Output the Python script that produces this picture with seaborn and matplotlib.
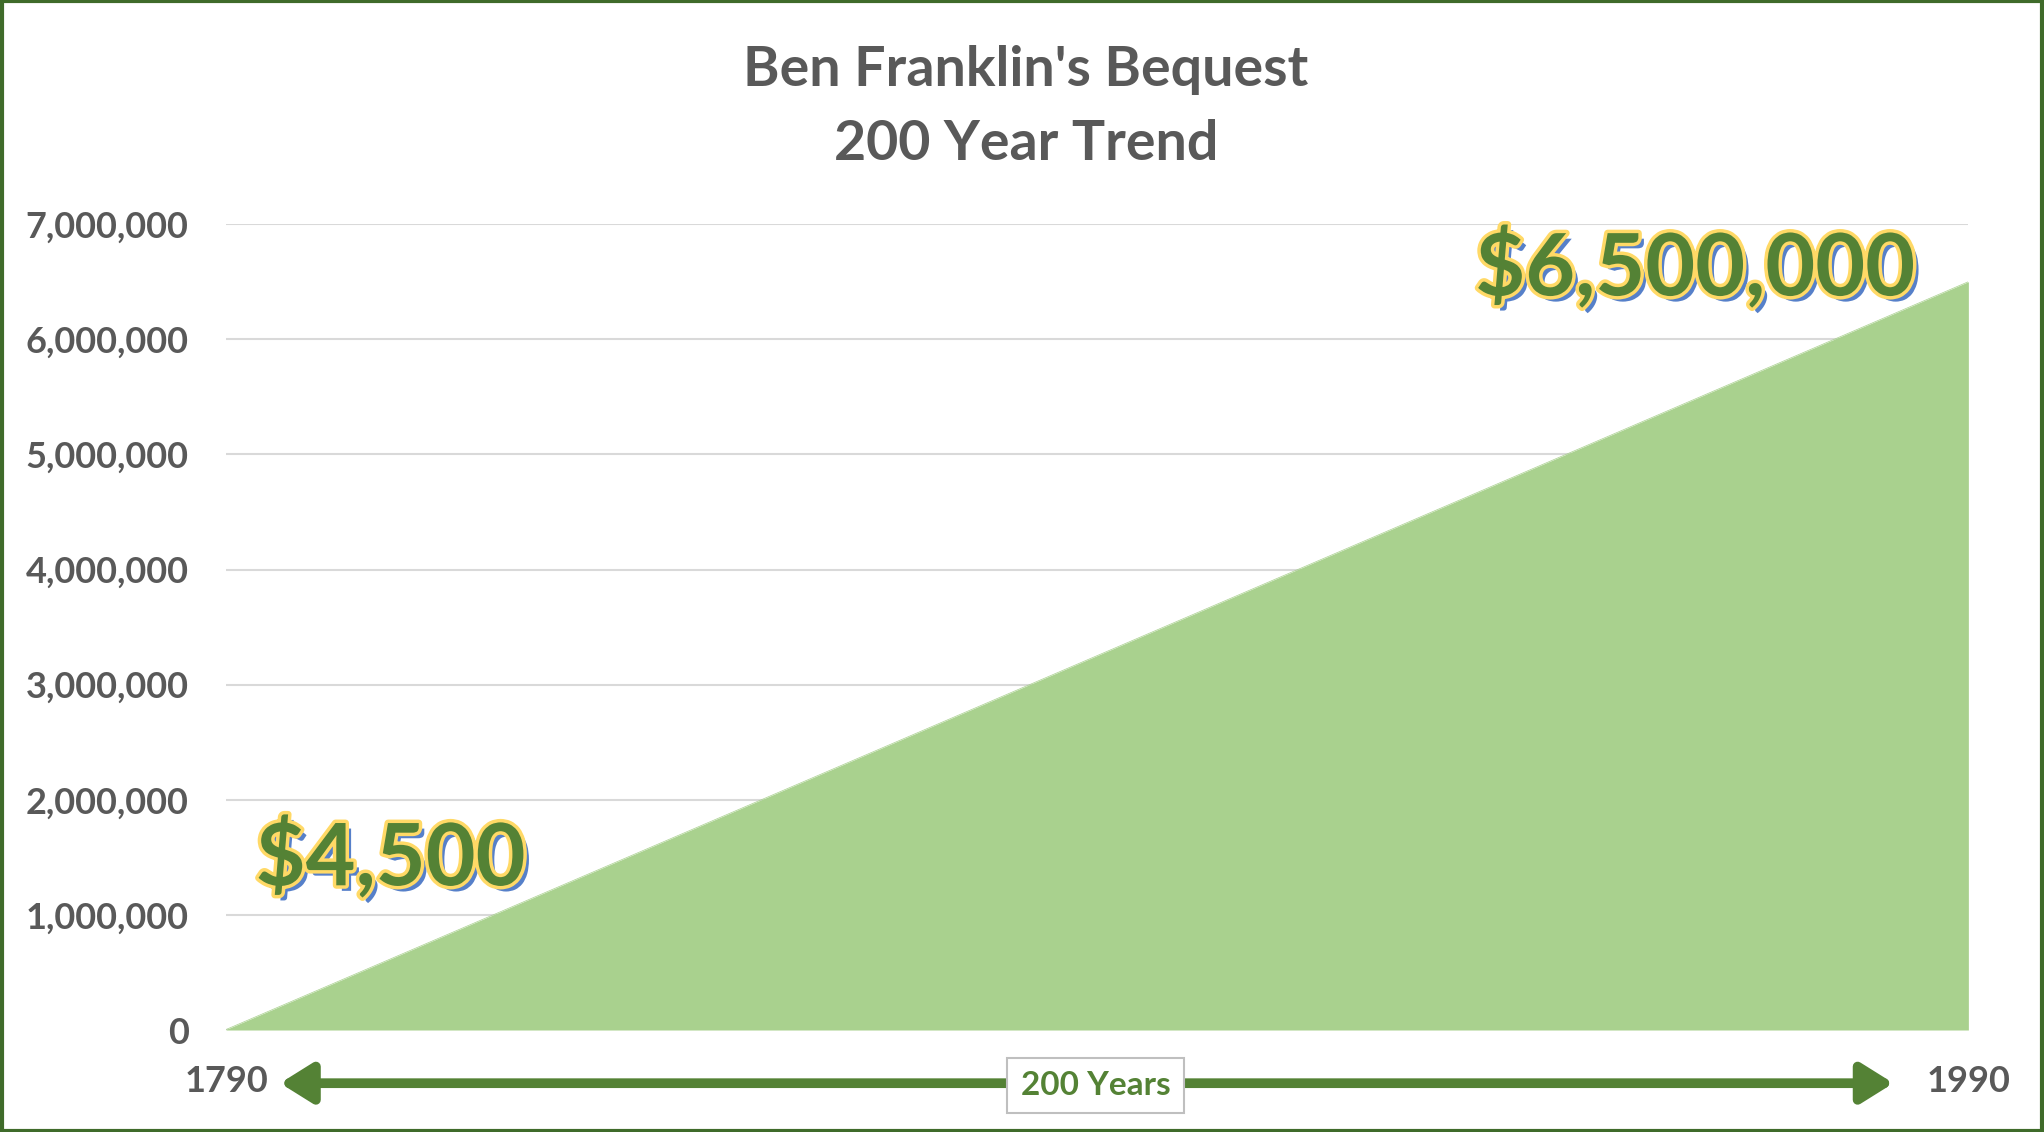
import matplotlib.pyplot as plt
import matplotlib.patheffects as pe
import matplotlib.patches as patches
import matplotlib.ticker as mticker
import numpy as np
import pandas as pd
import seaborn as sns

sns.set_theme(style="white")
plt.rcParams['font.family'] = ['Lato', 'DejaVu Sans']

# data
years = [1790, 1990]
values = [4500, 6500000]
title_lines = ["Ben Franklin's Bequest", "200 Year Trend"]
span_label = "200 Years"
y_ticks = [0, 1000000, 2000000, 3000000, 4000000, 5000000, 6000000, 7000000]

GRAY = '#595959'
GREEN = '#548235'
FILL = '#A9D18E'

df = pd.DataFrame({'Year': years, 'Value': values})

fig = plt.figure(figsize=(20.44, 11.32), dpi=100)
ax = fig.add_axes([0.1106, 0.0901, 0.8524, 0.7119])

sns.lineplot(ax=ax, data=df, x='Year', y='Value', color=FILL, linewidth=0.5, legend=False)
ax.fill_between(df['Year'], df['Value'], color=FILL, linewidth=0)

ax.set_xlim(years[0], years[-1])
ax.set_ylim(0, y_ticks[-1])
ax.set_yticks(y_ticks)
ax.yaxis.set_major_formatter(mticker.FuncFormatter(lambda v, p: f"{int(v):,}"))
ax.grid(axis='y', color='#D9D9D9', linewidth=1.5, zorder=0)
ax.set_axisbelow(True)
for s in ax.spines.values():
    s.set_visible(False)
ax.tick_params(axis='y', length=0, pad=27, labelsize=26, labelcolor=GRAY)
for lbl in ax.get_yticklabels():
    lbl.set_fontweight('bold')
ax.set_xticks(years)
ax.set_xticklabels([str(y) for y in years])
ax.tick_params(axis='x', length=0, pad=25, labelsize=26, labelcolor=GRAY)
for lbl in ax.get_xticklabels():
    lbl.set_fontweight('bold')
ax.set_xlabel('')
ax.set_ylabel('')

# title
fig.text(0.502, 0.938, title_lines[0], ha='center', va='center', fontsize=40,
         fontweight='bold', color=GRAY)
fig.text(0.502, 0.873, title_lines[1], ha='center', va='center', fontsize=40,
         fontweight='bold', color=GRAY)

# big value labels
fx = [pe.SimplePatchShadow(offset=(4, -4), shadow_rgbFace='#4472C4', alpha=0.9),
      pe.Stroke(linewidth=5, foreground='#FFD966'), pe.Normal()]
ax.text(0.717, 0.945, f"${values[-1]:,}", transform=ax.transAxes, ha='left', va='center',
        fontsize=62, fontweight='bold', color=GREEN, path_effects=fx)
ax.text(0.017, 0.213, f"${values[0]:,}", transform=ax.transAxes, ha='left', va='center',
        fontsize=62, fontweight='bold', color=GREEN, path_effects=fx)

# span arrow
ax.annotate('', xy=(0.031, -0.066), xytext=(0.957, -0.066), xycoords='axes fraction',
            textcoords='axes fraction', annotation_clip=False,
            arrowprops=dict(arrowstyle='<|-|>,head_length=1.6,head_width=1.0',
                            color=GREEN, lw=7, shrinkA=0, shrinkB=0))
ax.text(0.499, -0.069, span_label, transform=ax.transAxes, ha='center', va='center',
        fontsize=24, fontweight='bold', color=GREEN,
        bbox=dict(boxstyle='square,pad=0.4', fc='white', ec='#BFBFBF', lw=1.5))

# outer border
fig.patches.append(patches.Rectangle((0.001, 0.001), 0.998, 0.998, transform=fig.transFigure,
                                     fill=False, edgecolor='#3F6B2A', linewidth=3))

plt.savefig('out.png', dpi=100)
